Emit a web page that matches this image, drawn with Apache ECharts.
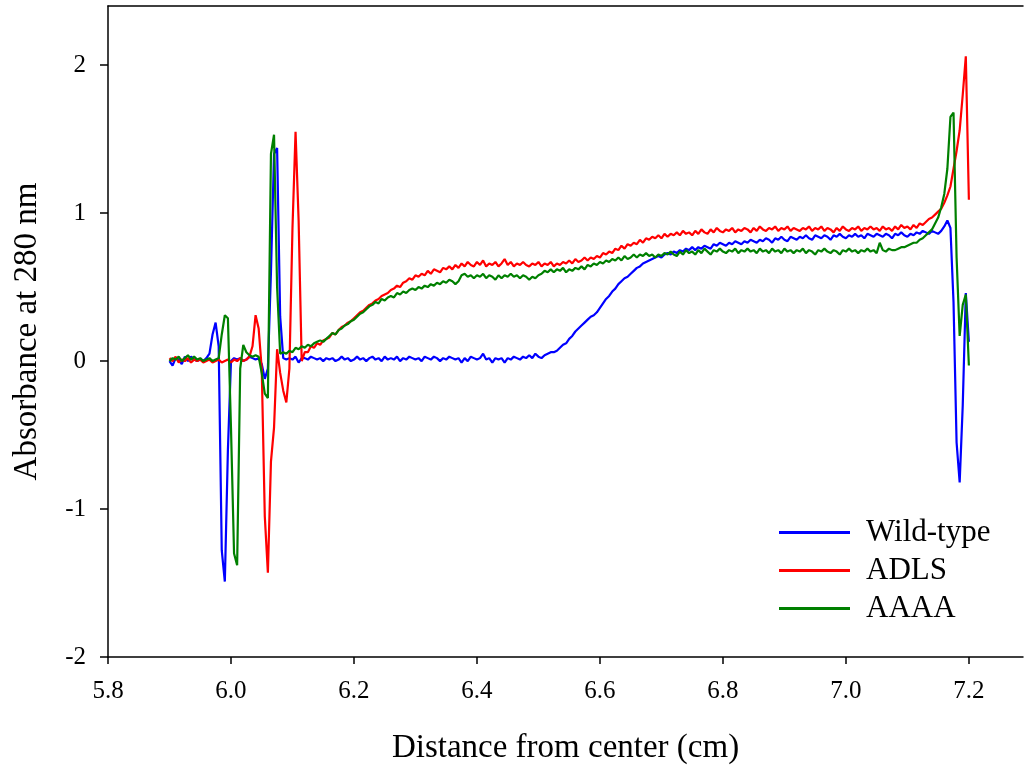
<!DOCTYPE html>
<html>
<head>
<meta charset="utf-8">
<script src="https://cdn.jsdelivr.net/npm/echarts@6/dist/echarts.min.js"></script>
<style>
html,body{margin:0;padding:0;background:#fff;}
#chart{width:1025px;height:767px;}
</style>
</head>
<body>
<div id="chart"></div>
<script>
// Distance from center (cm)
var distance = [
5.900,5.905,5.910,5.915,5.920,5.925,5.930,5.935,5.940,5.945,5.950,5.955,5.960,5.965,5.970,5.975,5.980,5.985,5.990,5.995,
6.000,6.005,6.010,6.015,6.020,6.025,6.030,6.035,6.040,6.045,6.050,6.055,6.060,6.065,6.070,6.075,6.080,6.085,6.090,6.095,
6.100,6.105,6.110,6.115,6.120,6.125,6.130,6.135,6.140,6.145,6.150,6.155,6.160,6.165,6.170,6.175,6.180,6.185,6.190,6.195,
6.200,6.205,6.210,6.215,6.220,6.225,6.230,6.235,6.240,6.245,6.250,6.255,6.260,6.265,6.270,6.275,6.280,6.285,6.290,6.295,
6.300,6.305,6.310,6.315,6.320,6.325,6.330,6.335,6.340,6.345,6.350,6.355,6.360,6.365,6.370,6.375,6.380,6.385,6.390,6.395,
6.400,6.405,6.410,6.415,6.420,6.425,6.430,6.435,6.440,6.445,6.450,6.455,6.460,6.465,6.470,6.475,6.480,6.485,6.490,6.495,
6.500,6.505,6.510,6.515,6.520,6.525,6.530,6.535,6.540,6.545,6.550,6.555,6.560,6.565,6.570,6.575,6.580,6.585,6.590,6.595,
6.600,6.605,6.610,6.615,6.620,6.625,6.630,6.635,6.640,6.645,6.650,6.655,6.660,6.665,6.670,6.675,6.680,6.685,6.690,6.695,
6.700,6.705,6.710,6.715,6.720,6.725,6.730,6.735,6.740,6.745,6.750,6.755,6.760,6.765,6.770,6.775,6.780,6.785,6.790,6.795,
6.800,6.805,6.810,6.815,6.820,6.825,6.830,6.835,6.840,6.845,6.850,6.855,6.860,6.865,6.870,6.875,6.880,6.885,6.890,6.895,
6.900,6.905,6.910,6.915,6.920,6.925,6.930,6.935,6.940,6.945,6.950,6.955,6.960,6.965,6.970,6.975,6.980,6.985,6.990,6.995,
7.000,7.005,7.010,7.015,7.020,7.025,7.030,7.035,7.040,7.045,7.050,7.055,7.060,7.065,7.070,7.075,7.080,7.085,7.090,7.095,
7.100,7.105,7.110,7.115,7.120,7.125,7.130,7.135,7.140,7.145,7.150,7.155,7.160,7.165,7.170,7.175,7.180,7.185,7.190,7.195,
7.200
];

var wildType = [
0.00,-0.03,0.02,0.01,-0.02,0.03,0.00,0.03,0.01,0.00, 0.01,0.00,0.02,0.05,0.18,0.26,0.10,-1.28,-1.49,-0.60,
0.00,0.02,0.01,0.02,0.00,0.01,0.03,0.02,0.01,0.02, -0.02,-0.12,-0.05,0.60,1.40,1.44,0.30,0.02,0.01,0.02,
0.01,0.03,-0.01,0.02,0.02,0.01,0.03,0.02,0.01,0.02, 0.00,0.02,0.01,0.02,0.00,0.01,0.03,0.01,0.02,0.00,
0.01,0.03,0.01,0.02,0.00,0.02,0.03,0.01,0.02,0.00, 0.03,0.01,0.02,0.01,0.03,0.00,0.02,0.01,0.03,0.02,
0.01,0.02,0.00,0.03,0.02,0.01,0.03,0.02,0.00,0.02, 0.01,0.03,0.02,0.01,0.02,-0.01,0.02,0.00,0.03,0.02,
0.01,0.02,0.05,0.01,0.02,-0.01,0.02,0.01,0.02,-0.01, 0.02,0.01,0.03,0.02,0.01,0.03,0.02,0.04,0.02,0.05,
0.03,0.02,0.04,0.05,0.06,0.06,0.07,0.09,0.11,0.12, 0.15,0.17,0.20,0.22,0.24,0.26,0.28,0.30,0.31,0.33,
0.36,0.39,0.42,0.44,0.47,0.49,0.52,0.54,0.56,0.57, 0.59,0.61,0.63,0.64,0.66,0.67,0.68,0.69,0.70,0.71,
0.70,0.72,0.73,0.72,0.74,0.73,0.75,0.74,0.76,0.75, 0.77,0.75,0.77,0.76,0.78,0.77,0.76,0.79,0.78,0.80,
0.79,0.78,0.80,0.79,0.81,0.80,0.79,0.81,0.80,0.82, 0.81,0.80,0.82,0.81,0.83,0.82,0.80,0.83,0.82,0.84,
0.82,0.81,0.84,0.83,0.82,0.84,0.83,0.85,0.83,0.82, 0.85,0.84,0.83,0.85,0.84,0.82,0.85,0.84,0.86,0.84,
0.83,0.85,0.84,0.86,0.84,0.85,0.83,0.86,0.85,0.84, 0.86,0.85,0.84,0.86,0.85,0.83,0.86,0.85,0.87,0.85,
0.84,0.86,0.85,0.87,0.86,0.88,0.87,0.86,0.88,0.87, 0.86,0.88,0.91,0.95,0.90,0.40,-0.55,-0.82,-0.30,0.46,
0.13
];

var adls = [
0.02,0.00,0.03,-0.01,0.01,0.00,0.02,-0.01,0.01,0.00, 0.01,-0.01,0.00,0.01,-0.01,0.00,0.01,-0.01,0.00,0.01,
-0.01,0.01,0.00,0.02,0.00,0.01,0.03,0.10,0.31,0.22, -0.05,-1.05,-1.43,-0.68,-0.45,0.08,-0.08,-0.20,-0.28,-0.05,
0.90,1.55,0.95,0.00,0.06,0.06,0.10,0.09,0.12,0.11, 0.14,0.15,0.16,0.19,0.18,0.21,0.23,0.24,0.26,0.27,
0.29,0.31,0.33,0.34,0.36,0.38,0.39,0.41,0.42,0.44, 0.45,0.46,0.48,0.49,0.51,0.50,0.53,0.54,0.56,0.55,
0.58,0.57,0.59,0.58,0.61,0.59,0.62,0.61,0.60,0.63, 0.62,0.64,0.62,0.65,0.63,0.66,0.64,0.67,0.65,0.64,
0.67,0.65,0.68,0.64,0.66,0.65,0.67,0.64,0.66,0.69, 0.65,0.67,0.64,0.66,0.65,0.67,0.65,0.64,0.66,0.65,
0.67,0.64,0.66,0.65,0.67,0.64,0.66,0.65,0.67,0.66, 0.68,0.66,0.69,0.67,0.68,0.70,0.68,0.70,0.69,0.71,
0.70,0.73,0.72,0.74,0.73,0.76,0.75,0.78,0.76,0.79, 0.78,0.80,0.79,0.82,0.80,0.83,0.82,0.84,0.83,0.85,
0.83,0.86,0.84,0.86,0.85,0.87,0.85,0.88,0.86,0.87, 0.85,0.88,0.86,0.89,0.87,0.86,0.89,0.87,0.90,0.88,
0.87,0.89,0.88,0.90,0.87,0.89,0.88,0.90,0.89,0.87, 0.90,0.88,0.91,0.89,0.88,0.90,0.89,0.91,0.88,0.90,
0.89,0.91,0.88,0.90,0.89,0.88,0.90,0.89,0.91,0.88, 0.90,0.89,0.91,0.88,0.90,0.89,0.87,0.90,0.88,0.91,
0.89,0.88,0.90,0.89,0.91,0.88,0.90,0.89,0.91,0.89, 0.90,0.88,0.91,0.89,0.90,0.88,0.91,0.89,0.92,0.90,
0.91,0.89,0.92,0.90,0.93,0.92,0.94,0.96,0.97,0.99, 1.01,1.03,1.07,1.12,1.18,1.30,1.42,1.56,1.80,2.06,
1.09
];

var aaaa = [
0.00,0.02,0.01,0.03,0.00,0.02,0.04,0.01,0.03,0.01, 0.02,0.00,0.01,0.02,0.00,0.01,0.02,0.18,0.31,0.29,
-0.45,-1.30,-1.38,-0.05,0.11,0.06,0.04,0.03,0.04,0.03, -0.08,-0.22,-0.25,1.40,1.53,0.50,0.05,0.06,0.05,0.07,
0.06,0.09,0.08,0.10,0.09,0.11,0.10,0.12,0.13,0.14, 0.13,0.15,0.17,0.19,0.18,0.21,0.22,0.24,0.25,0.27,
0.28,0.30,0.32,0.33,0.35,0.37,0.38,0.40,0.39,0.42, 0.41,0.43,0.44,0.43,0.46,0.45,0.47,0.46,0.48,0.49,
0.48,0.50,0.49,0.51,0.50,0.52,0.51,0.53,0.52,0.54, 0.53,0.55,0.54,0.52,0.54,0.58,0.59,0.57,0.58,0.56,
0.58,0.57,0.59,0.56,0.58,0.57,0.55,0.58,0.56,0.58, 0.57,0.59,0.57,0.58,0.56,0.58,0.57,0.55,0.57,0.56,
0.58,0.59,0.61,0.60,0.62,0.60,0.62,0.61,0.63,0.60, 0.62,0.61,0.63,0.62,0.64,0.62,0.65,0.64,0.66,0.65,
0.67,0.66,0.68,0.67,0.69,0.68,0.70,0.68,0.71,0.69, 0.70,0.72,0.70,0.72,0.71,0.73,0.71,0.72,0.70,0.72,
0.71,0.73,0.72,0.74,0.72,0.71,0.74,0.72,0.75,0.73, 0.74,0.72,0.75,0.73,0.76,0.74,0.72,0.75,0.74,0.76,
0.74,0.73,0.75,0.74,0.76,0.73,0.75,0.74,0.76,0.74, 0.75,0.73,0.76,0.74,0.75,0.73,0.76,0.74,0.75,0.73,
0.76,0.74,0.75,0.73,0.75,0.74,0.76,0.73,0.75,0.74, 0.72,0.75,0.74,0.76,0.74,0.73,0.75,0.74,0.72,0.75,
0.74,0.76,0.74,0.75,0.73,0.75,0.74,0.76,0.74,0.75, 0.73,0.80,0.75,0.74,0.76,0.75,0.75,0.76,0.77,0.77,
0.78,0.79,0.80,0.80,0.82,0.83,0.85,0.87,0.89,0.93, 0.97,1.04,1.13,1.30,1.65,1.68,0.70,0.17,0.38,0.45,
-0.03
];

var seriesNames = ['Wild-type', 'ADLS', 'AAAA'];
var xTicks = [5.8, 6.0, 6.2, 6.4, 6.6, 6.8, 7.0, 7.2];
var yTicks = [-2, -1, 0, 1, 2];

function pairs(ys) {
  var out = [];
  for (var i = 0; i < ys.length; i++) out.push([distance[i], ys[i]]);
  return out;
}

var FONT = 'Liberation Serif';
var chart = echarts.init(document.getElementById('chart'), null, {renderer: 'canvas'});
chart.setOption({
  animation: false,
  backgroundColor: '#ffffff',
  textStyle: {fontFamily: FONT, color: '#000'},
  grid: {left: 108, top: 6, right: 2, bottom: 110, containLabel: false, outerBoundsMode: 'none'},
  legend: {
    orient: 'vertical',
    left: 774,
    top: 512,
    icon: 'rect',
    itemWidth: 71,
    itemHeight: 3,
    itemGap: 7,
    data: seriesNames,
    textStyle: {fontFamily: FONT, fontSize: 31, color: '#000', padding: [0, 0, 0, 11]}
  },
  xAxis: [{
    type: 'value',
    min: 5.8,
    max: 7.288,
    name: 'Distance from center (cm)',
    nameLocation: 'middle',
    nameGap: 75,
    nameTextStyle: {fontFamily: FONT, fontSize: 33, color: '#000'},
    axisLine: {show: true, onZero: false, lineStyle: {color: '#000', width: 1.5}},
    axisTick: {show: true, inside: false, length: 7, customValues: xTicks, lineStyle: {color: '#000', width: 1.5}},
    axisLabel: {show: true, margin: 22, customValues: xTicks, fontFamily: FONT, fontSize: 25, color: '#000',
      formatter: function (v) { return v.toFixed(1); }},
    splitLine: {show: false}
  }, {
    type: 'value',
    position: 'top',
    min: 5.8,
    max: 7.288,
    axisLine: {show: true, onZero: false, lineStyle: {color: '#000', width: 1.5}},
    axisTick: {show: false},
    axisLabel: {show: false},
    splitLine: {show: false}
  }],
  yAxis: {
    type: 'value',
    min: -2,
    max: 2.4,
    name: 'Absorbance at 280 nm',
    nameLocation: 'middle',
    nameGap: 64,
    nameTextStyle: {fontFamily: FONT, fontSize: 33, color: '#000'},
    axisLine: {show: true, onZero: false, lineStyle: {color: '#000', width: 1.5}},
    axisTick: {show: true, inside: false, length: 8, customValues: yTicks, lineStyle: {color: '#000', width: 1.5}},
    axisLabel: {show: true, margin: 22, customValues: yTicks, fontFamily: FONT, fontSize: 25, color: '#000',
      formatter: function (v) { return String(v); }},
    splitLine: {show: false}
  },
  series: [
    {name: seriesNames[0], type: 'line', data: pairs(wildType), showSymbol: false, symbol: 'none',
      lineStyle: {color: '#0000ff', width: 2.2}, itemStyle: {color: '#0000ff'}},
    {name: seriesNames[1], type: 'line', data: pairs(adls), showSymbol: false, symbol: 'none',
      lineStyle: {color: '#ff0000', width: 2.2}, itemStyle: {color: '#ff0000'}},
    {name: seriesNames[2], type: 'line', data: pairs(aaaa), showSymbol: false, symbol: 'none',
      lineStyle: {color: '#008000', width: 2.2}, itemStyle: {color: '#008000'}}
  ]
});
</script>
</body>
</html>
